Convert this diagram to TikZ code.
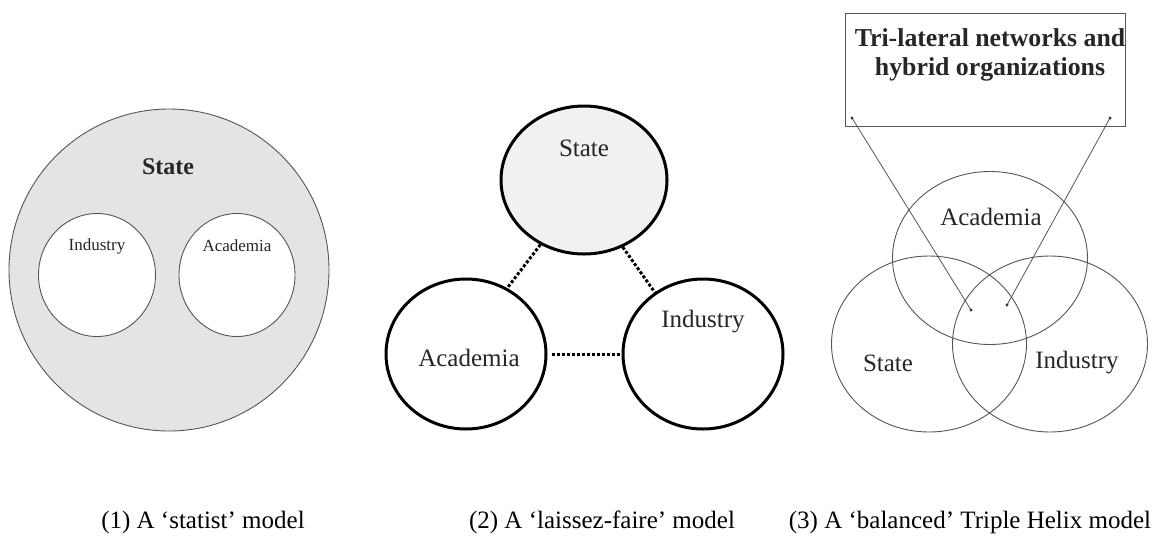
\documentclass[tikz,border=0pt]{standalone}
\usepackage{fontspec}
\setmainfont{Liberation Serif}
\usetikzlibrary{shapes.geometric}
\definecolor{stategray}{HTML}{E4E4E4}
\definecolor{lightfill}{HTML}{F1F1F1}
\definecolor{linegray}{HTML}{555555}
\tikzset{
  thinring/.style={ellipse, draw=linegray, line width=0.9pt, inner sep=0pt},
  thickring/.style={ellipse, draw=black, line width=3pt, inner sep=0pt, fill=white},
  venn/.style={ellipse, draw=linegray, line width=0.9pt, inner sep=0pt},
  link/.style={draw=black, line width=3pt, dotted, line cap=butt},
  pointer/.style={draw=linegray, line width=0.8pt},
  label/.style={inner sep=0pt, text=black!85},
  caption/.style={inner sep=0pt, font=\fontsize{25}{28}\selectfont}
}
\begin{document}
\begin{tikzpicture}[x=1pt,y=-1pt]
\useasboundingbox (0,0) rectangle (1157,542);
% ---------- (1) statist model ----------
\node[thinring, fill=stategray, minimum width=320pt, minimum height=322pt] (bigstate) at (169,270) {};
\node[thinring, fill=white, minimum width=117pt, minimum height=123pt] (ind1) at (97,275) {};
\node[thinring, fill=white, minimum width=116pt, minimum height=123pt] (aca1) at (237,275) {};
\node[label, font=\fontsize{24}{26}\selectfont\bfseries] (st1) at (168,167) {State};
\node[label, font=\fontsize{17}{19}\selectfont] (ind1t) at (97,246) {Industry};
\node[label, font=\fontsize{17}{19}\selectfont] (aca1t) at (237,246) {Academia};
% ---------- (2) laissez-faire model ----------
\node[thickring, fill=lightfill, minimum width=166pt, minimum height=148pt] (st2) at (584,180) {};
\node[thickring, minimum width=160pt, minimum height=150pt] (aca2) at (466,354) {};
\node[thickring, minimum width=160pt, minimum height=150pt] (ind2) at (703,354) {};
\node[label, font=\fontsize{25}{28}\selectfont] (st2t) at (584,148) {State};
\node[label, font=\fontsize{25}{28}\selectfont] (aca2t) at (469,358) {Academia};
\node[label, font=\fontsize{25}{28}\selectfont] (ind2t) at (703,322) {Industry};
\draw[link] (st2.236) -- (aca2.58);
\draw[link] (st2.300) -- (ind2.128);
\draw[link, shorten <=4pt, shorten >=2pt] (aca2.east) -- (ind2.west);
% ---------- (3) balanced Triple Helix model ----------
\node[draw=linegray, line width=1pt, minimum width=280pt, minimum height=113pt, inner sep=0pt] (box) at (985,69.5) {};
\node[label, font=\fontsize{25.8}{29}\selectfont\bfseries, align=center] (boxt) at (990,54.5) {Tri-lateral networks and\\hybrid organizations};
\node[venn, minimum width=195pt, minimum height=173pt] (aca3) at (990,258) {};
\node[venn, minimum width=195pt, minimum height=176pt] (st3) at (929,344) {};
\node[venn, minimum width=195pt, minimum height=176pt] (ind3) at (1050,344) {};
\node[label, font=\fontsize{25}{28}\selectfont] (aca3t) at (991,217) {Academia};
\node[label, font=\fontsize{25}{28}\selectfont] (st3t) at (888,363) {State};
\node[label, font=\fontsize{25}{28}\selectfont] (ind3t) at (1077,363) {Industry};
\coordinate (pa) at (852,118);
\coordinate (pb) at (971,310);
\coordinate (pc) at (1110,118);
\coordinate (pd) at (1007,305);
\draw[pointer] (pa) -- (pb);
\draw[pointer] (pc) -- (pd);
\foreach \p in {pa,pb,pc,pd} \fill[black!80] (\p) circle (1.6pt);
% ---------- captions ----------
\node[caption] (c1) at (203,522) {(1) A ‘statist’ model};
\node[caption] (c2) at (602,522) {(2) A ‘laissez-faire’ model};
\node[caption] (c3) at (970,522) {(3) A ‘balanced’ Triple Helix model};
\end{tikzpicture}
\end{document}
